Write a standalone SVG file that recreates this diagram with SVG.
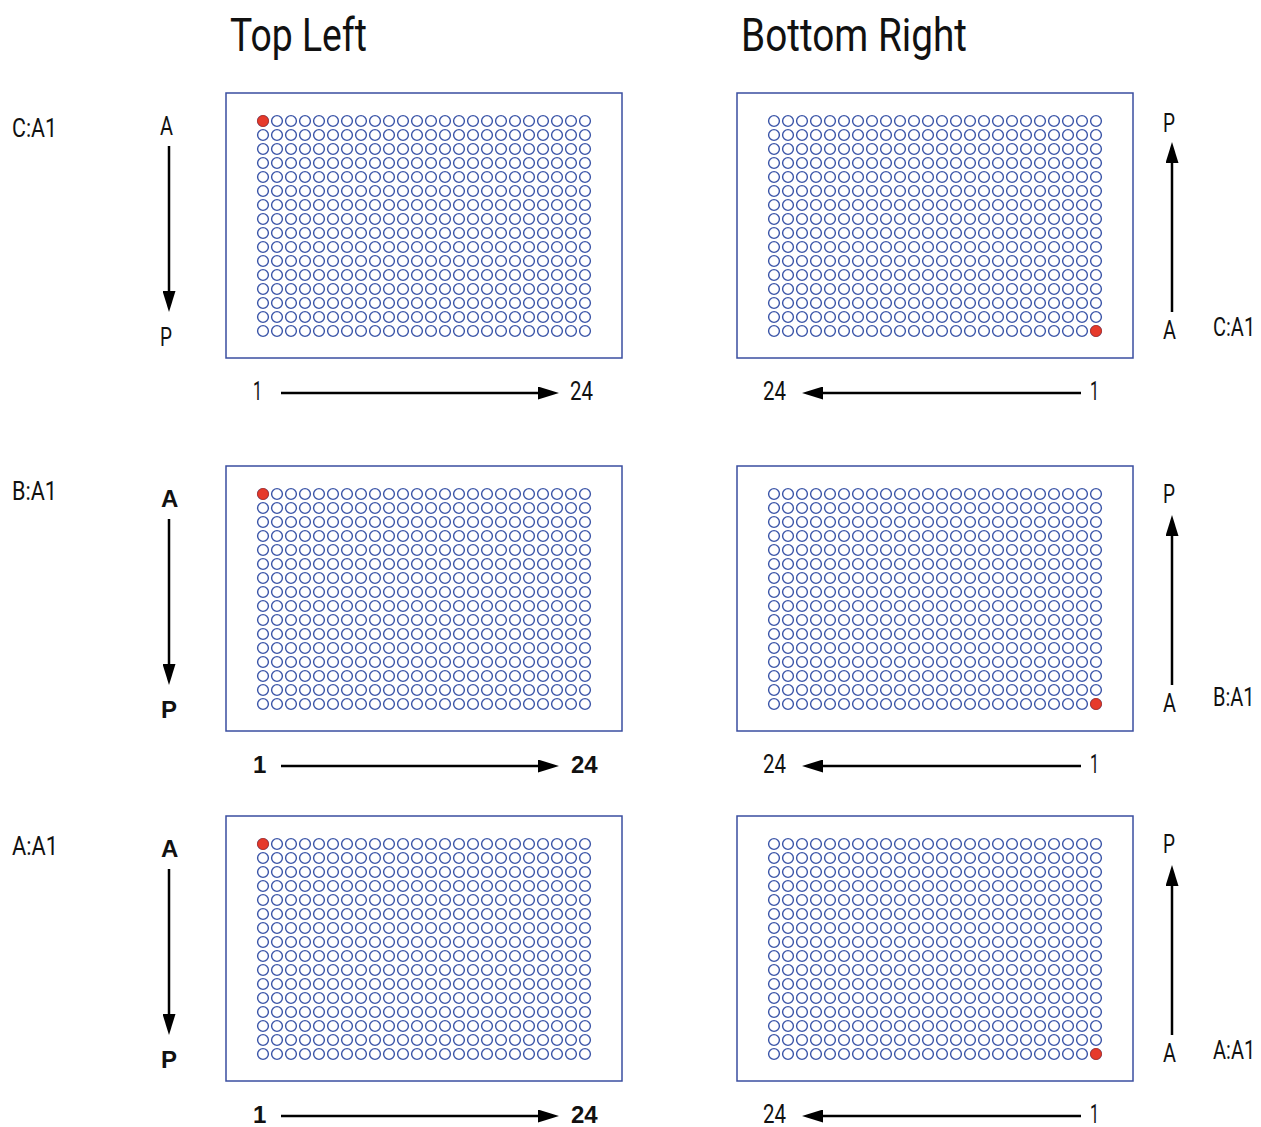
<svg xmlns="http://www.w3.org/2000/svg" xmlns:xlink="http://www.w3.org/1999/xlink" width="1261" height="1127" viewBox="0 0 1261 1127">
<style>
.t{font-family:"Roboto","Liberation Sans",sans-serif;font-size:25px;fill:#111}
.ttl{font-family:"Roboto","Liberation Sans",sans-serif;font-size:47px;fill:#111}
.b{font-family:"Liberation Sans",Arial,sans-serif;font-weight:bold;font-size:24px;fill:#111}
.well{fill:none;stroke:#3b55a8;stroke-width:1.4}
.plate{fill:#fff;stroke:#3a4ea0;stroke-width:1.5}
.dot{fill:#e63a2c;stroke:#c8331f;stroke-width:1}
.ar{stroke:#000;stroke-width:2.5;fill:none;marker-end:url(#ah)}
</style>
<defs>
<marker id="ah" markerUnits="userSpaceOnUse" markerWidth="21" markerHeight="13" viewBox="0 0 21 13" refX="0" refY="6.5" orient="auto">
<path d="M0,0 L21,6.5 L0,13 z" fill="#000"/>
</marker>
<g id="row">
<circle class="well" cx="0" cy="0" r="5.4"/><circle class="well" cx="14" cy="0" r="5.4"/><circle class="well" cx="28" cy="0" r="5.4"/><circle class="well" cx="42" cy="0" r="5.4"/><circle class="well" cx="56" cy="0" r="5.4"/><circle class="well" cx="70" cy="0" r="5.4"/><circle class="well" cx="84" cy="0" r="5.4"/><circle class="well" cx="98" cy="0" r="5.4"/><circle class="well" cx="112" cy="0" r="5.4"/><circle class="well" cx="126" cy="0" r="5.4"/><circle class="well" cx="140" cy="0" r="5.4"/><circle class="well" cx="154" cy="0" r="5.4"/><circle class="well" cx="168" cy="0" r="5.4"/><circle class="well" cx="182" cy="0" r="5.4"/><circle class="well" cx="196" cy="0" r="5.4"/><circle class="well" cx="210" cy="0" r="5.4"/><circle class="well" cx="224" cy="0" r="5.4"/><circle class="well" cx="238" cy="0" r="5.4"/><circle class="well" cx="252" cy="0" r="5.4"/><circle class="well" cx="266" cy="0" r="5.4"/><circle class="well" cx="280" cy="0" r="5.4"/><circle class="well" cx="294" cy="0" r="5.4"/><circle class="well" cx="308" cy="0" r="5.4"/><circle class="well" cx="322" cy="0" r="5.4"/>
</g>
<g id="plate">
<rect class="plate" x="-37" y="-28" width="396" height="265"/>
<use xlink:href="#row" y="0"/><use xlink:href="#row" y="14"/><use xlink:href="#row" y="28"/><use xlink:href="#row" y="42"/><use xlink:href="#row" y="56"/><use xlink:href="#row" y="70"/><use xlink:href="#row" y="84"/><use xlink:href="#row" y="98"/><use xlink:href="#row" y="112"/><use xlink:href="#row" y="126"/><use xlink:href="#row" y="140"/><use xlink:href="#row" y="154"/><use xlink:href="#row" y="168"/><use xlink:href="#row" y="182"/><use xlink:href="#row" y="196"/><use xlink:href="#row" y="210"/>
</g>
</defs>
<rect width="1261" height="1127" fill="#fff"/>
<g id="titles">
<text class="ttl" x="230" y="51" textLength="137" lengthAdjust="spacingAndGlyphs">Top Left</text>
<text class="ttl" x="741" y="51" textLength="226" lengthAdjust="spacingAndGlyphs">Bottom Right</text>
</g>
<g id="plate-tl-c"><use xlink:href="#plate" x="263" y="121"/><circle class="dot" cx="263" cy="121" r="5.4"/></g>
<g id="plate-br-c"><use xlink:href="#plate" x="774" y="121"/><circle class="dot" cx="1096" cy="331" r="5.4"/></g>
<g id="plate-tl-b"><use xlink:href="#plate" x="263" y="494"/><circle class="dot" cx="263" cy="494" r="5.4"/></g>
<g id="plate-br-b"><use xlink:href="#plate" x="774" y="494"/><circle class="dot" cx="1096" cy="704" r="5.4"/></g>
<g id="plate-tl-a"><use xlink:href="#plate" x="263" y="844"/><circle class="dot" cx="263" cy="844" r="5.4"/></g>
<g id="plate-br-a"><use xlink:href="#plate" x="774" y="844"/><circle class="dot" cx="1096" cy="1054" r="5.4"/></g>
<g id="connectors">
<line class="ar" x1="169" y1="146" x2="169" y2="291"/>
<line class="ar" x1="281" y1="393" x2="538" y2="393"/>
<line class="ar" x1="1172" y1="312" x2="1172" y2="163"/>
<line class="ar" x1="1081" y1="393" x2="823" y2="393"/>
<line class="ar" x1="169" y1="519" x2="169" y2="664"/>
<line class="ar" x1="281" y1="766" x2="538" y2="766"/>
<line class="ar" x1="1172" y1="685" x2="1172" y2="536"/>
<line class="ar" x1="1081" y1="766" x2="823" y2="766"/>
<line class="ar" x1="169" y1="869" x2="169" y2="1014"/>
<line class="ar" x1="281" y1="1116" x2="538" y2="1116"/>
<line class="ar" x1="1172" y1="1035" x2="1172" y2="886"/>
<line class="ar" x1="1081" y1="1116" x2="823" y2="1116"/>
</g>
<g id="labels-c">
<text class="t" x="12" y="137" textLength="45" lengthAdjust="spacingAndGlyphs">C:A1</text>
<text class="t" x="160" y="135" textLength="13" lengthAdjust="spacingAndGlyphs">A</text>
<text class="t" x="160" y="346" textLength="12" lengthAdjust="spacingAndGlyphs">P</text>
<text class="t" x="253" y="400" textLength="9" lengthAdjust="spacingAndGlyphs">1</text>
<text class="t" x="570" y="400" textLength="23" lengthAdjust="spacingAndGlyphs">24</text>
<text class="t" x="1163" y="132" textLength="12" lengthAdjust="spacingAndGlyphs">P</text>
<text class="t" x="1163" y="339" textLength="13" lengthAdjust="spacingAndGlyphs">A</text>
<text class="t" transform="translate(1213,336) scale(0.8,1)" x="0" y="0">C:A1</text>
<text class="t" x="763" y="400" textLength="23" lengthAdjust="spacingAndGlyphs">24</text>
<text class="t" x="1090" y="400" textLength="9" lengthAdjust="spacingAndGlyphs">1</text>
</g>
<g id="labels-b">
<text class="t" x="12" y="500" textLength="45" lengthAdjust="spacingAndGlyphs">B:A1</text>
<text class="b" x="161" y="507">A</text>
<text class="b" x="161" y="718">P</text>
<text class="b" x="253" y="773">1</text>
<text class="b" x="571" y="773">24</text>
<text class="t" x="1163" y="503" textLength="12" lengthAdjust="spacingAndGlyphs">P</text>
<text class="t" x="1163" y="712" textLength="13" lengthAdjust="spacingAndGlyphs">A</text>
<text class="t" transform="translate(1213,706) scale(0.8,1)" x="0" y="0">B:A1</text>
<text class="t" x="763" y="773" textLength="23" lengthAdjust="spacingAndGlyphs">24</text>
<text class="t" x="1090" y="773" textLength="9" lengthAdjust="spacingAndGlyphs">1</text>
</g>
<g id="labels-a">
<text class="t" x="12" y="855" textLength="46" lengthAdjust="spacingAndGlyphs">A:A1</text>
<text class="b" x="161" y="857">A</text>
<text class="b" x="161" y="1068">P</text>
<text class="b" x="253" y="1123">1</text>
<text class="b" x="571" y="1123">24</text>
<text class="t" x="1163" y="853" textLength="12" lengthAdjust="spacingAndGlyphs">P</text>
<text class="t" x="1163" y="1062" textLength="13" lengthAdjust="spacingAndGlyphs">A</text>
<text class="t" transform="translate(1213,1059) scale(0.8,1)" x="0" y="0">A:A1</text>
<text class="t" x="763" y="1123" textLength="23" lengthAdjust="spacingAndGlyphs">24</text>
<text class="t" x="1090" y="1123" textLength="9" lengthAdjust="spacingAndGlyphs">1</text>
</g>
</svg>
